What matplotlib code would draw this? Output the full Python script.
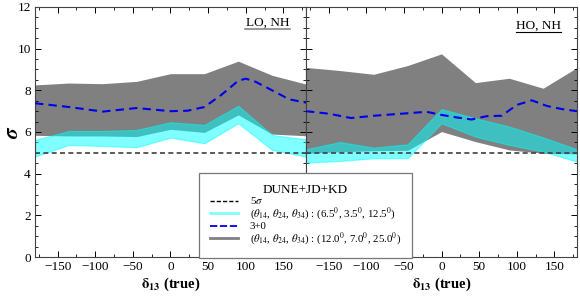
import matplotlib
matplotlib.use("Agg")
import matplotlib.pyplot as plt
from matplotlib.lines import Line2D
from matplotlib.ticker import MultipleLocator

plt.rcParams['font.family'] = ['Liberation Serif', 'DejaVu Serif']
plt.rcParams['mathtext.fontset'] = 'stix'

# delta_13 (true) grid of the bands
delta = [-180, -135, -90, -45, 0, 45, 90, 135, 180]

# LO, NH
lo_gray_top = [8.26, 8.35, 8.32, 8.43, 8.80, 8.80, 9.40, 8.72, 8.30]
lo_gray_bot = [5.84, 5.81, 5.81, 5.78, 6.13, 5.98, 6.82, 5.90, 5.82]
lo_cyan_top = [5.62, 6.05, 6.05, 6.10, 6.47, 6.34, 7.26, 5.86, 5.65]
lo_cyan_bot = [4.82, 5.38, 5.33, 5.27, 5.73, 5.46, 6.42, 5.14, 4.82]
lo_blue_x = [-180, -135, -90, -45, 0, 22.5, 45, 67.5, 90, 100, 112.5, 135, 157.5, 180]
lo_blue = [7.38, 7.20, 6.98, 7.15, 7.00, 7.02, 7.20, 7.78, 8.46, 8.56, 8.42, 8.00, 7.57, 7.41]

# HO, NH
ho_gray_top = [9.10, 8.95, 8.77, 9.19, 9.75, 8.37, 8.58, 8.10, 9.09]
ho_gray_bot = [4.98, 5.05, 5.10, 5.12, 6.02, 5.54, 5.14, 4.98, 4.95]
ho_cyan_top = [5.17, 5.52, 5.25, 5.41, 7.10, 6.66, 6.26, 5.74, 5.17]
ho_cyan_bot = [4.53, 4.61, 4.74, 4.74, 6.42, 5.78, 5.38, 5.06, 4.58]
ho_blue_x = [-180, -150, -120, -90, -45, -20, 0, 20, 40, 60, 80, 100, 120, 140, 160, 180]
ho_blue = [7.00, 6.88, 6.67, 6.78, 6.90, 6.97, 6.82, 6.70, 6.60, 6.76, 6.78, 7.30, 7.52, 7.25, 7.10, 7.00]

five_sigma = 5.0
gray = '#808080'
cyan = '#00ffff'

fig = plt.figure(figsize=(5.8, 2.97), dpi=100)
ax1 = fig.add_axes([35 / 580, 1 - 257 / 297, 271 / 580, 250 / 297])
ax2 = fig.add_axes([306 / 580, 1 - 257 / 297, 271 / 580, 250 / 297])

panels = [
    (ax1, lo_gray_top, lo_gray_bot, lo_cyan_top, lo_cyan_bot, lo_blue_x, lo_blue, 'LO, NH', 0.936),
    (ax2, ho_gray_top, ho_gray_bot, ho_cyan_top, ho_cyan_bot, ho_blue_x, ho_blue, 'HO, NH', 0.924),
]

for ax, gtop, gbot, ctop, cbot, bx, by, tag, ty in panels:
    ax.fill_between(delta, gbot, gtop, color=gray, lw=0, zorder=1)
    ax.fill_between(delta, cbot, ctop, facecolor=cyan, edgecolor=cyan, alpha=0.5, lw=0.8, zorder=2)
    ax.axhline(five_sigma, color='#404040', ls=(0, (3, 2)), lw=1.2, zorder=3)
    ax.plot(bx, by, color='#0000ee', ls=(0, (4, 2.5)), lw=1.5, zorder=4)

    ax.set_xlim(-180, 180)
    ax.set_ylim(0, 12)
    ax.xaxis.set_major_locator(MultipleLocator(50))
    ax.xaxis.set_minor_locator(MultipleLocator(25))
    ax.yaxis.set_major_locator(MultipleLocator(2))
    ax.yaxis.set_minor_locator(MultipleLocator(0.5))
    ax.tick_params(which='both', direction='in', top=True, right=True, labelsize=9.5, pad=3)
    ax.tick_params(which='major', length=4, width=0.7)
    ax.tick_params(which='minor', length=2, width=0.6)
    for sp in ax.spines.values():
        sp.set_color('#444444')
        sp.set_linewidth(0.8)
    ax.set_xlabel(r'$\mathbf{\delta_{13}}$ (true)', fontsize=10.5, fontweight='bold', labelpad=2)

    ax.text(0.94, ty, tag, transform=ax.transAxes, fontsize=9.5, ha='right', va='center')

ax1.plot([0.774, 0.94], [0.911, 0.911], transform=ax1.transAxes, color='#888888', lw=1.2)
ax2.plot([0.774, 0.94], [0.899, 0.899], transform=ax2.transAxes, color='black', lw=0.8)

ax1.set_ylabel(r'$\boldsymbol{\sigma}$', fontsize=15)
ax1.yaxis.set_label_coords(-0.045, 0.5)
ax2.tick_params(labelleft=False)

handles = [
    Line2D([], [], color='black', ls=(0, (3, 1.5)), lw=1),
    Line2D([], [], color='#80ffff', lw=2),
    Line2D([], [], color='#0000ee', ls=(0, (4, 1.5)), lw=1.3),
    Line2D([], [], color=gray, lw=2),
]
labels = [
    r'5$\sigma$',
    r'($\theta_{14}$, $\theta_{24}$, $\theta_{34}$) : (6.5$^0$, 3.5$^0$, 12.5$^0$)',
    '3+0',
    r'($\theta_{14}$, $\theta_{24}$, $\theta_{34}$) : (12.0$^0$, 7.0$^0$, 25.0$^0$)',
]
leg = fig.legend(handles, labels, loc='upper left', bbox_to_anchor=(199 / 580, 1 - 173 / 297),
                 title='DUNE+JD+KD', fontsize=7.8, title_fontsize=9.5, frameon=True,
                 fancybox=False, edgecolor='#777777', framealpha=1, borderpad=1.0,
                 borderaxespad=0, handlelength=2.6, handletextpad=1.1, labelspacing=-0.05)
leg.get_frame().set_linewidth(0.9)

fig.savefig('out.png', dpi=100)
